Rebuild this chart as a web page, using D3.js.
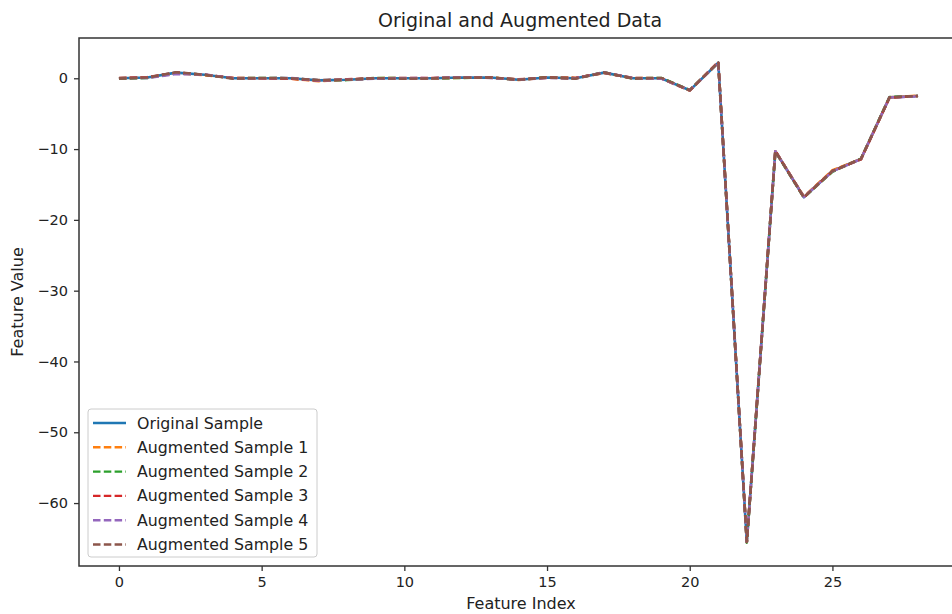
<!DOCTYPE html>
<html>
<head>
<meta charset="utf-8">
<script src="https://cdn.jsdelivr.net/npm/d3@7"></script>
<style>
  body { margin: 0; background: #fff; }
  svg text { font-family: "DejaVu Sans", sans-serif; fill: #222; }
</style>
</head>
<body>
<svg id="chart" width="952" height="614"></svg>
<script>
// feature indices 0..28
var featureIndex = d3.range(0, 29);

// values
var original = [0.0, 0.1, 0.8, 0.5, 0.0, 0.0, 0.0, -0.3, -0.2, 0.0, 0.0, 0.0, 0.1, 0.1, -0.2, 0.1, 0.0, 0.8, 0.0, 0.0, -1.7, 2.2, -65.5, -10.3, -16.8, -13.1, -11.4, -2.7, -2.5];
var aug1 = [0.05, 0.1, 0.7, 0.45, 0.05, -0.05, -0.05, -0.4, -0.2, 0.0, 0.05, -0.05, 0.1, 0.15, -0.25, 0.1, 0.05, 0.75, 0.05, 0.0, -1.75, 2.25, -65.4, -10.3, -16.7, -13.0, -11.4, -2.7, -2.45];
var aug2 = [-0.05, 0.05, 0.75, 0.5, 0.0, 0.05, 0.0, -0.3, -0.25, 0.05, 0.0, 0.0, 0.05, 0.1, -0.2, 0.15, 0.0, 0.85, -0.05, 0.05, -1.65, 2.2, -65.6, -10.35, -16.85, -13.2, -11.35, -2.65, -2.5];
var aug3 = [0.0, 0.15, 0.8, 0.5, 0.05, 0.0, -0.05, -0.35, -0.15, 0.0, 0.0, 0.05, 0.1, 0.1, -0.15, 0.1, 0.05, 0.8, 0.0, 0.0, -1.7, 2.3, -65.5, -10.25, -16.8, -13.1, -11.45, -2.75, -2.5];
var aug4 = [0.05, 0.05, 0.6, 0.55, 0.0, 0.0, 0.05, -0.3, -0.2, -0.05, 0.05, 0.0, 0.15, 0.05, -0.2, 0.05, 0.0, 0.8, 0.05, -0.05, -1.7, 2.2, -65.45, -10.3, -16.75, -13.15, -11.4, -2.7, -2.55];
var aug5 = [0.0, 0.1, 0.85, 0.5, -0.05, 0.05, 0.0, -0.25, -0.2, 0.0, -0.05, 0.0, 0.1, 0.1, -0.2, 0.1, -0.05, 0.8, 0.0, 0.05, -1.7, 2.25, -65.5, -10.3, -16.8, -13.1, -11.4, -2.7, -2.5];

var seriesNames = ["Original Sample", "Augmented Sample 1", "Augmented Sample 2", "Augmented Sample 3", "Augmented Sample 4", "Augmented Sample 5"];
var seriesData = [original, aug1, aug2, aug3, aug4, aug5];
var colors = ["#1f77b4", "#ff7f0e", "#2ca02c", "#d62728", "#9467bd", "#8c564b"];

var xTicks = [0, 5, 10, 15, 20, 25];
var yTicks = [0, -10, -20, -30, -40, -50, -60];

var svg = d3.select("#chart");
var plotLeft = 79, plotTop = 38, plotRight = 958, plotBottom = 566;

var x = d3.scaleLinear().domain([-1.4, 29.4]).range([plotLeft, plotRight]);
var y = d3.scaleLinear().domain([-68.89, 5.69]).range([plotBottom, plotTop]);

// axes
var xAxis = svg.append("g")
  .attr("transform", "translate(0," + plotBottom + ")")
  .call(d3.axisBottom(x).tickValues(xTicks).tickSize(5).tickPadding(6).tickFormat(d3.format("d")));
var yAxis = svg.append("g")
  .attr("transform", "translate(" + plotLeft + ",0)")
  .call(d3.axisLeft(y).tickValues(yTicks).tickSize(5).tickPadding(6)
    .tickFormat(function(d) { return d < 0 ? "\u2212" + Math.abs(d) : d; }));

[xAxis, yAxis].forEach(function(a) {
  a.select(".domain").remove();
  a.selectAll(".tick line").attr("stroke", "#333").attr("stroke-width", 1.3);
  a.selectAll(".tick text").attr("font-size", 14.5).attr("fill", "#222");
});

// lines
var line = d3.line()
  .x(function(d, i) { return x(featureIndex[i]); })
  .y(function(d) { return y(d); });

seriesData.forEach(function(s, k) {
  svg.append("path")
    .datum(s)
    .attr("d", line)
    .attr("fill", "none")
    .attr("stroke", colors[k])
    .attr("stroke-width", 2.6)
    .attr("stroke-linejoin", "round")
    .attr("stroke-dasharray", k === 0 ? null : "7.5,3.3");
});

// frame
svg.append("rect")
  .attr("x", plotLeft).attr("y", plotTop)
  .attr("width", plotRight - plotLeft).attr("height", plotBottom - plotTop)
  .attr("fill", "none").attr("stroke", "#333").attr("stroke-width", 1.5);

// title + labels
svg.append("text")
  .attr("x", 520).attr("y", 27)
  .attr("text-anchor", "middle").attr("font-size", 19)
  .text("Original and Augmented Data");

svg.append("text")
  .attr("x", 521).attr("y", 609)
  .attr("text-anchor", "middle").attr("font-size", 16)
  .text("Feature Index");

svg.append("text")
  .attr("transform", "translate(23," + ((plotTop + plotBottom) / 2) + ") rotate(-90)")
  .attr("text-anchor", "middle").attr("font-size", 16)
  .text("Feature Value");

// legend
var legend = svg.append("g").attr("transform", "translate(88,409)");
legend.append("rect")
  .attr("width", 229).attr("height", 148).attr("rx", 3)
  .attr("fill", "#fff").attr("fill-opacity", 0.8)
  .attr("stroke", "#ccc").attr("stroke-width", 1);

seriesNames.forEach(function(name, k) {
  var yy = 14 + k * 24.3;
  legend.append("line")
    .attr("x1", 5).attr("x2", 38).attr("y1", yy).attr("y2", yy)
    .attr("stroke", colors[k]).attr("stroke-width", 2.4)
    .attr("stroke-dasharray", k === 0 ? null : "7.5,3.3");
  legend.append("text")
    .attr("x", 49).attr("y", yy + 5.5)
    .attr("font-size", 15.8)
    .text(name);
});
</script>
</body>
</html>
